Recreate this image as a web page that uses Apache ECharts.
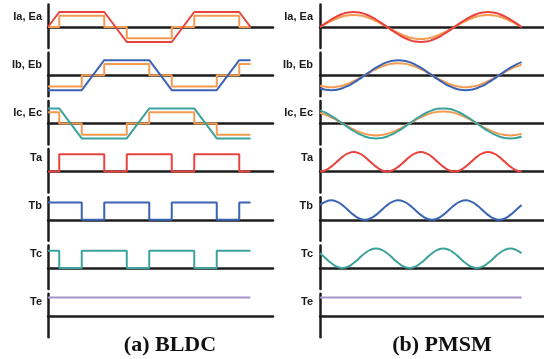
<!DOCTYPE html>
<html>
<head>
<meta charset="utf-8">
<script src="https://cdn.jsdelivr.net/npm/echarts@6/dist/echarts.min.js"></script>
<style>
  html, body { margin: 0; padding: 0; background: #fff; }
  #chart { width: 544px; height: 359px; }
</style>
</head>
<body>
<div id="chart"></div>
<script>
// row labels and panel captions
const rowLabels = ['Ia, Ea', 'Ib, Eb', 'Ic, Ec', 'Ta', 'Tb', 'Tc', 'Te'];
const captions = ['(a) BLDC', '(b) PMSM'];

// BLDC: [electrical angle (deg), value] corners
const bldcEa = [[0, 0], [30, 1], [150, 1], [210, -1], [330, -1], [390, 1], [510, 1], [540, 0]];
const bldcIa = [[0, 0], [30, 0], [30, 0.75], [150, 0.75], [150, 0], [210, 0], [210, -0.75], [330, -0.75], [330, 0], [390, 0], [390, 0.75], [510, 0.75], [510, 0], [540, 0]];
const bldcEb = [[0, -1], [90, -1], [150, 1], [270, 1], [330, -1], [450, -1], [510, 1], [540, 1]];
const bldcIb = [[0, -0.75], [90, -0.75], [90, 0], [150, 0], [150, 0.75], [270, 0.75], [270, 0], [330, 0], [330, -0.75], [450, -0.75], [450, 0], [510, 0], [510, 0.75], [540, 0.75]];
const bldcEc = [[0, 1], [30, 1], [90, -1], [210, -1], [270, 1], [390, 1], [450, -1], [540, -1]];
const bldcIc = [[0, 0.75], [30, 0.75], [30, 0], [90, 0], [90, -0.75], [210, -0.75], [210, 0], [270, 0], [270, 0.75], [390, 0.75], [390, 0], [450, 0], [450, -0.75], [540, -0.75]];
const bldcTa = [[0, 0], [30, 0], [30, 1.15], [150, 1.15], [150, 0], [210, 0], [210, 1.15], [330, 1.15], [330, 0], [390, 0], [390, 1.15], [510, 1.15], [510, 0], [540, 0]];
const bldcTb = [[0, 1.15], [90, 1.15], [90, 0], [150, 0], [150, 1.15], [270, 1.15], [270, 0], [330, 0], [330, 1.15], [450, 1.15], [450, 0], [510, 0], [510, 1.15], [540, 1.15]];
const bldcTc = [[0, 1.15], [30, 1.15], [30, 0], [90, 0], [90, 1.15], [210, 1.15], [210, 0], [270, 0], [270, 1.15], [390, 1.15], [390, 0], [450, 0], [450, 1.15], [540, 1.15]];
const bldcTe = [[0, 1.25], [540, 1.25]];

// PMSM: values sampled every 15 deg
const pmsmDeg = [0, 15, 30, 45, 60, 75, 90, 105, 120, 135, 150, 165, 180, 195, 210, 225, 240, 255, 270, 285, 300, 315, 330, 345, 360, 375, 390, 405, 420, 435, 450, 465, 480, 495, 510, 525, 540];
const pmsmEa = [0, .26, .5, .71, .87, .97, 1, .97, .87, .71, .5, .26, 0, -.26, -.5, -.71, -.87, -.97, -1, -.97, -.87, -.71, -.5, -.26, 0, .26, .5, .71, .87, .97, 1, .97, .87, .71, .5, .26, 0];
const pmsmIa = [0, .21, .4, .57, .7, .77, .8, .77, .7, .57, .4, .21, 0, -.21, -.4, -.57, -.7, -.77, -.8, -.77, -.7, -.57, -.4, -.21, 0, .21, .4, .57, .7, .77, .8, .77, .7, .57, .4, .21, 0];
const pmsmEb = [-.87, -.97, -1, -.97, -.87, -.71, -.5, -.26, 0, .26, .5, .71, .87, .97, 1, .97, .87, .71, .5, .26, 0, -.26, -.5, -.71, -.87, -.97, -1, -.97, -.87, -.71, -.5, -.26, 0, .26, .5, .71, .87];
const pmsmIb = [-.7, -.77, -.8, -.77, -.7, -.57, -.4, -.21, 0, .21, .4, .57, .7, .77, .8, .77, .7, .57, .4, .21, 0, -.21, -.4, -.57, -.7, -.77, -.8, -.77, -.7, -.57, -.4, -.21, 0, .21, .4, .57, .7];
const pmsmEc = [.87, .71, .5, .26, 0, -.26, -.5, -.71, -.87, -.97, -1, -.97, -.87, -.71, -.5, -.26, 0, .26, .5, .71, .87, .97, 1, .97, .87, .71, .5, .26, 0, -.26, -.5, -.71, -.87, -.97, -1, -.97, -.87];
const pmsmIc = [.7, .57, .4, .21, 0, -.21, -.4, -.57, -.7, -.77, -.8, -.77, -.7, -.57, -.4, -.21, 0, .21, .4, .57, .7, .77, .8, .77, .7, .57, .4, .21, 0, -.21, -.4, -.57, -.7, -.77, -.8, -.77, -.7];
const pmsmTa = [0, .09, .33, .65, .98, 1.21, 1.3, 1.21, .98, .65, .33, .09, 0, .09, .33, .65, .98, 1.21, 1.3, 1.21, .98, .65, .33, .09, 0, .09, .33, .65, .98, 1.21, 1.3, 1.21, .98, .65, .33, .09, 0];
const pmsmTb = [.98, 1.21, 1.3, 1.21, .98, .65, .33, .09, 0, .09, .33, .65, .98, 1.21, 1.3, 1.21, .98, .65, .33, .09, 0, .09, .33, .65, .98, 1.21, 1.3, 1.21, .98, .65, .33, .09, 0, .09, .33, .65, .98];
const pmsmTc = [.98, .65, .33, .09, 0, .09, .33, .65, .98, 1.21, 1.3, 1.21, .98, .65, .33, .09, 0, .09, .33, .65, .98, 1.21, 1.3, 1.21, .98, .65, .33, .09, 0, .09, .33, .65, .98, 1.21, 1.3, 1.21, .98];
const pmsmTe = [1.25, 1.25, 1.25, 1.25, 1.25, 1.25, 1.25, 1.25, 1.25, 1.25, 1.25, 1.25, 1.25, 1.25, 1.25, 1.25, 1.25, 1.25, 1.25, 1.25, 1.25, 1.25, 1.25, 1.25, 1.25, 1.25, 1.25, 1.25, 1.25, 1.25, 1.25, 1.25, 1.25, 1.25, 1.25, 1.25, 1.25];

const RED = '#e8433d', ORANGE = '#f49b52', BLUE = '#3a63b3', TEAL = '#3ca29b', PURPLE = '#a794cc', INK = '#1c1c1c';

const zip = vals => pmsmDeg.map((d, i) => [d, vals[i]]);

// each row: list of [data, colour]; background curve first
const bldcRows = [
  [[bldcIa, ORANGE], [bldcEa, RED]],
  [[bldcIb, ORANGE], [bldcEb, BLUE]],
  [[bldcIc, ORANGE], [bldcEc, TEAL]],
  [[bldcTa, RED]],
  [[bldcTb, BLUE]],
  [[bldcTc, TEAL]],
  [[bldcTe, PURPLE]]
];
const pmsmRows = [
  [[zip(pmsmIa), ORANGE], [zip(pmsmEa), RED]],
  [[zip(pmsmIb), ORANGE], [zip(pmsmEb), BLUE]],
  [[zip(pmsmIc), ORANGE], [zip(pmsmEc), TEAL]],
  [[zip(pmsmTa), RED]],
  [[zip(pmsmTb), BLUE]],
  [[zip(pmsmTc), TEAL]],
  [[zip(pmsmTe), PURPLE]]
];

const chart = echarts.init(document.getElementById('chart'));

const grid = [], xAxis = [], yAxis = [], series = [], graphic = [];
const PX = 15;           // pixels per unit
const YMAX = 1.5, YMIN = -1.4;
const panels = [
  { rows: bldcRows, left: 48, width: 225, labelRight: 42, smooth: false, cx: 170 },
  { rows: pmsmRows, left: 320, width: 224, labelRight: 313, smooth: true, cx: 442 }
];

panels.forEach((p, pi) => {
  p.rows.forEach((row, ri) => {
    const base = 27 + 48.2 * ri;
    const gi = grid.length;
    grid.push({ left: p.left, top: base - YMAX * PX, width: p.width, height: (YMAX - YMIN) * PX });
    xAxis.push({
      gridIndex: gi, type: 'value', min: 0, max: 600,
      axisLine: { show: true, onZero: true, lineStyle: { color: INK, width: 2.5 } },
      axisTick: { show: false }, axisLabel: { show: false }, splitLine: { show: false }
    });
    yAxis.push({
      gridIndex: gi, type: 'value', min: YMIN, max: YMAX,
      axisLine: { show: true, lineStyle: { color: INK, width: 2.5 } },
      axisTick: { show: false }, axisLabel: { show: false }, splitLine: { show: false }
    });
    row.forEach(([data, color]) => {
      series.push({
        type: 'line', xAxisIndex: gi, yAxisIndex: gi, data: data,
        smooth: p.smooth, showSymbol: false, symbol: 'none', clip: false,
        lineStyle: { color: color, width: 2 }
      });
    });
    graphic.push({
      type: 'text', x: p.labelRight, y: base - (ri < 3 ? 10 : 14),
      style: {
        text: rowLabels[ri], font: 'bold 11px "Liberation Sans", Arial, sans-serif', fill: '#1a1a1a',
        align: 'right', verticalAlign: 'middle', textAlign: 'right', textVerticalAlign: 'middle'
      }
    });
  });
  graphic.push({
    type: 'text', x: p.cx, y: 345,
    style: {
      text: captions[pi], font: 'bold 22px "Liberation Serif", "Times New Roman", serif', fill: '#111',
      align: 'center', verticalAlign: 'middle', textAlign: 'center', textVerticalAlign: 'middle'
    }
  });
});

chart.setOption({
  animation: false,
  backgroundColor: '#fff',
  grid: grid,
  xAxis: xAxis,
  yAxis: yAxis,
  series: series,
  graphic: graphic
});
</script>
</body>
</html>
